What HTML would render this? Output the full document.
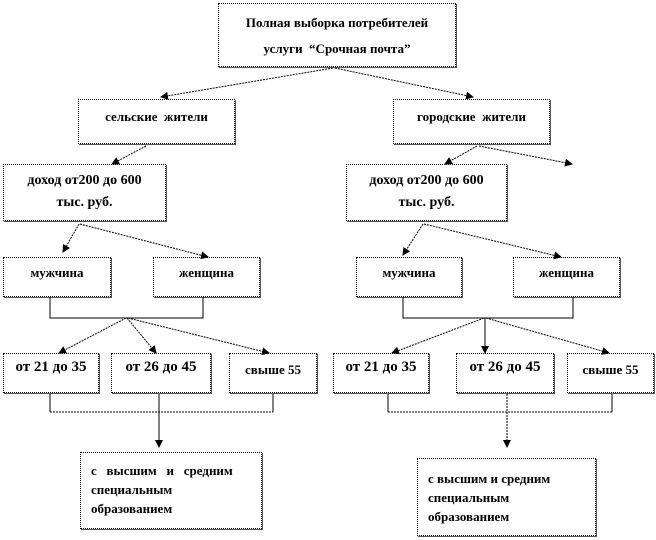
<!DOCTYPE html>
<html><head><meta charset="utf-8"><style>
body{margin:0;background:#fff;width:656px;height:540px;overflow:hidden;position:relative;font-family:"Liberation Serif",serif;font-weight:bold;font-size:13px;color:#000}
.b{position:absolute;border:1px dotted #000;background:#fff;box-sizing:border-box;text-align:center;box-shadow:1px 1px 0 #555}
svg{position:absolute;left:0;top:0;z-index:2}
</style></head><body>
<div class="b" style="left:218px;top:3px;width:238px;height:64px;padding-top:6px;line-height:26px">Полная выборка потребителей<br>услуги &nbsp;“Срочная почта”</div>
<div class="b" style="left:78px;top:99px;width:157px;height:45px;padding-top:9px">сельские &nbsp;жители</div>
<div class="b" style="left:393px;top:99px;width:157px;height:45px;padding-top:9px">городские &nbsp;жители</div>
<div class="b" style="left:3px;top:164px;width:163px;height:57px;padding-top:5px;line-height:22px;font-size:14px">доход от200 до 600<br>тыс. руб.</div>
<div class="b" style="left:346px;top:164px;width:161px;height:57px;padding-top:5px;line-height:22px;font-size:14px">доход от200 до 600<br>тыс. руб.</div>
<div class="b" style="left:3px;top:257px;width:108px;height:40px;padding-top:7px">мужчина</div>
<div class="b" style="left:153px;top:257px;width:107px;height:40px;padding-top:7px">женщина</div>
<div class="b" style="left:356px;top:257px;width:106px;height:40px;padding-top:7px">мужчина</div>
<div class="b" style="left:513px;top:257px;width:107px;height:40px;padding-top:7px">женщина</div>
<div class="b" style="left:3px;top:353px;width:96px;height:40px;padding-top:5px;font-size:15px">от 21 до 35</div>
<div class="b" style="left:111px;top:353px;width:100px;height:40px;padding-top:5px;font-size:15px">от 26 до 45</div>
<div class="b" style="left:229px;top:353px;width:88px;height:40px;padding-top:8px">свыше 55</div>
<div class="b" style="left:333px;top:353px;width:96px;height:40px;padding-top:5px;font-size:15px">от 21 до 35</div>
<div class="b" style="left:456px;top:353px;width:98px;height:40px;padding-top:5px;font-size:15px">от 26 до 45</div>
<div class="b" style="left:567px;top:353px;width:87px;height:40px;padding-top:8px">свыше 55</div>
<div class="b" style="left:80px;top:452px;width:182px;height:77px;text-align:justify;padding:8px 10px;line-height:19px">с &nbsp;&nbsp;высшим &nbsp;&nbsp;и &nbsp;&nbsp;средним<br>специальным<br>образованием</div>
<div class="b" style="left:417px;top:458px;width:179px;height:78px;text-align:left;padding:10px 10px;line-height:19px">с высшим и средним<br>специальным<br>образованием</div>
<svg width="656" height="540">
<defs><marker id="a" markerWidth="8" markerHeight="8" refX="7" refY="4" orient="auto" markerUnits="userSpaceOnUse"><path d="M0,0 L8,4 L0,8z" fill="#000"/></marker></defs>
<g stroke="#000" stroke-width="1" fill="none" stroke-dasharray="2,1">
<line x1="333" y1="68" x2="161" y2="97" marker-end="url(#a)"/>
<line x1="335" y1="68" x2="473" y2="97" marker-end="url(#a)"/>
<line x1="146" y1="146" x2="112" y2="164" marker-end="url(#a)"/>
<line x1="477" y1="146" x2="445" y2="164" marker-end="url(#a)"/>
<line x1="479" y1="146" x2="572" y2="164" marker-end="url(#a)"/>
<line x1="79" y1="224" x2="63" y2="252" marker-end="url(#a)"/>
<line x1="80" y1="224" x2="208" y2="257" marker-end="url(#a)"/>
<line x1="423" y1="224" x2="403" y2="255" marker-end="url(#a)"/>
<line x1="424" y1="224" x2="561" y2="257" marker-end="url(#a)"/>
<line x1="126" y1="318" x2="59" y2="353" marker-end="url(#a)"/>
<line x1="127" y1="318" x2="156" y2="353" marker-end="url(#a)"/>
<line x1="128" y1="318" x2="269" y2="353" marker-end="url(#a)"/>
<line x1="484" y1="318" x2="392" y2="353" marker-end="url(#a)"/>
<line x1="486" y1="318" x2="609" y2="353" marker-end="url(#a)"/>
<line x1="50" y1="412" x2="273" y2="412"/>
<line x1="388" y1="412" x2="612" y2="412"/>
<line x1="507" y1="394" x2="507" y2="447" marker-end="url(#a)"/>
</g>
<g stroke="#000" stroke-width="1" fill="none">
<polyline points="50,297 50,318 203,318 203,297"/>
<polyline points="403,297 403,318 573,318 573,297"/>
<line x1="485" y1="318" x2="485" y2="353" marker-end="url(#a)"/>
<line x1="50" y1="394" x2="50" y2="412"/><line x1="273" y1="394" x2="273" y2="412"/>
<line x1="159" y1="394" x2="159" y2="447" marker-end="url(#a)"/>
<line x1="388" y1="394" x2="388" y2="412"/><line x1="612" y1="394" x2="612" y2="412"/>
</g>
</svg>
</body></html>
